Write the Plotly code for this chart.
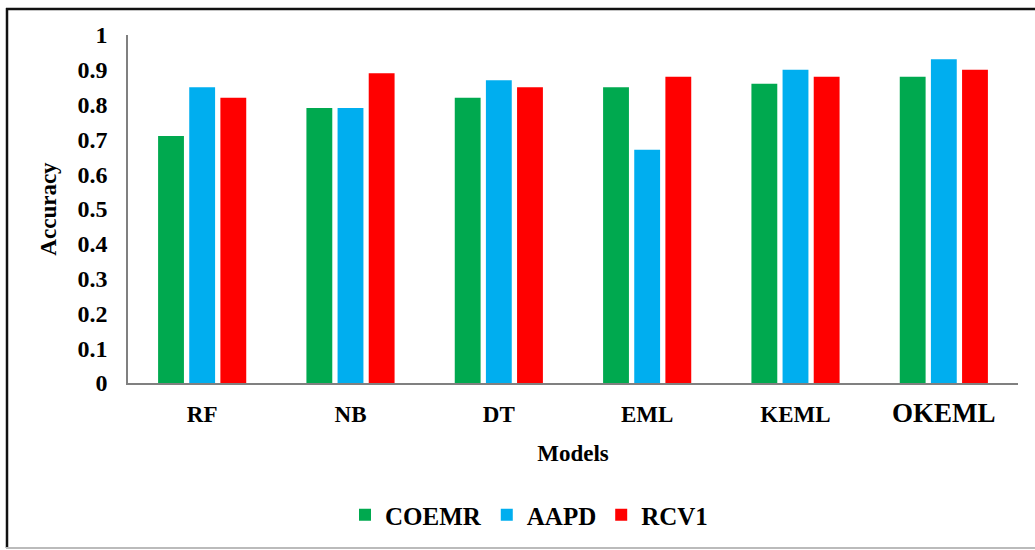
import plotly.graph_objects as go

models = ["RF", "NB", "DT", "EML", "KEML", "OKEML"]
tick_labels = ["RF", "NB", "DT", "EML", "KEML",
               "<span style='font-size:27px'>OKEML</span>"]
coemr = [0.71, 0.79, 0.82, 0.85, 0.86, 0.88]
aapd = [0.85, 0.79, 0.87, 0.67, 0.90, 0.93]
rcv1 = [0.82, 0.89, 0.85, 0.88, 0.88, 0.90]

series = [("COEMR", coemr, "#00A94F"), ("AAPD", aapd, "#00AEEF"), ("RCV1", rcv1, "#FF0000")]

fig = go.Figure()
for name, vals, col in series:
    fig.add_trace(go.Bar(x=models, y=vals, name=name, marker=dict(color=col, line=dict(width=0))))

W, H = 1035, 550
L, R, T, B = 128, 17, 35, 167
pw, ph = W - L - R, H - T - B

def px2paper_x(px):
    return (px - L) / pw

def px2paper_y(py):
    return (H - B - py) / ph

font_serif = "Liberation Serif, Times New Roman, serif"

fig.update_layout(
    width=W, height=H,
    margin=dict(l=L, r=R, t=T, b=B, autoexpand=False),
    paper_bgcolor="white", plot_bgcolor="white",
    barmode="group", bargap=0.37, bargroupgap=0.17,
    font=dict(family=font_serif, color="black"),
    showlegend=True,
    legend=dict(orientation="h", x=px2paper_x(529), y=px2paper_y(515),
                xanchor="center", yanchor="middle",
                font=dict(family=font_serif, size=25, color="black", weight="bold"),
                itemwidth=30, traceorder="normal"),
    xaxis=dict(tickvals=models, ticktext=tick_labels, showline=True, linecolor="#808080",
               linewidth=1.5, ticks="", showgrid=False, ticklabelstandoff=10,
               tickfont=dict(family=font_serif, size=23, weight="bold"),
               title=dict(text="Models", font=dict(family=font_serif, size=23, weight="bold"),
                          standoff=18)),
    yaxis=dict(range=[0, 1], dtick=0.1, tick0=0, showline=True, linecolor="#808080",
               linewidth=1.5, ticks="", showgrid=False, zeroline=False, ticklabelstandoff=14,
               tickfont=dict(family=font_serif, size=24, weight="bold"),
               tickformat="~g",
               title=dict(text="Accuracy", font=dict(family=font_serif, size=23, weight="bold"),
                          standoff=14)),
    shapes=[
        dict(type="line", xref="paper", yref="paper",
             x0=px2paper_x(6), x1=px2paper_x(1035), y0=px2paper_y(9), y1=px2paper_y(9),
             line=dict(color="#111111", width=2.5)),
        dict(type="line", xref="paper", yref="paper",
             x0=px2paper_x(7), x1=px2paper_x(7), y0=px2paper_y(8), y1=px2paper_y(548),
             line=dict(color="#111111", width=2.5)),
        dict(type="line", xref="paper", yref="paper",
             x0=px2paper_x(6), x1=px2paper_x(1035), y0=px2paper_y(548), y1=px2paper_y(548),
             line=dict(color="#BBBBBB", width=2)),
    ],
)

fig.write_html("out.html", config={"displayModeBar": False},
               post_script="document.body.style.margin='0';document.body.style.overflow='hidden';")
